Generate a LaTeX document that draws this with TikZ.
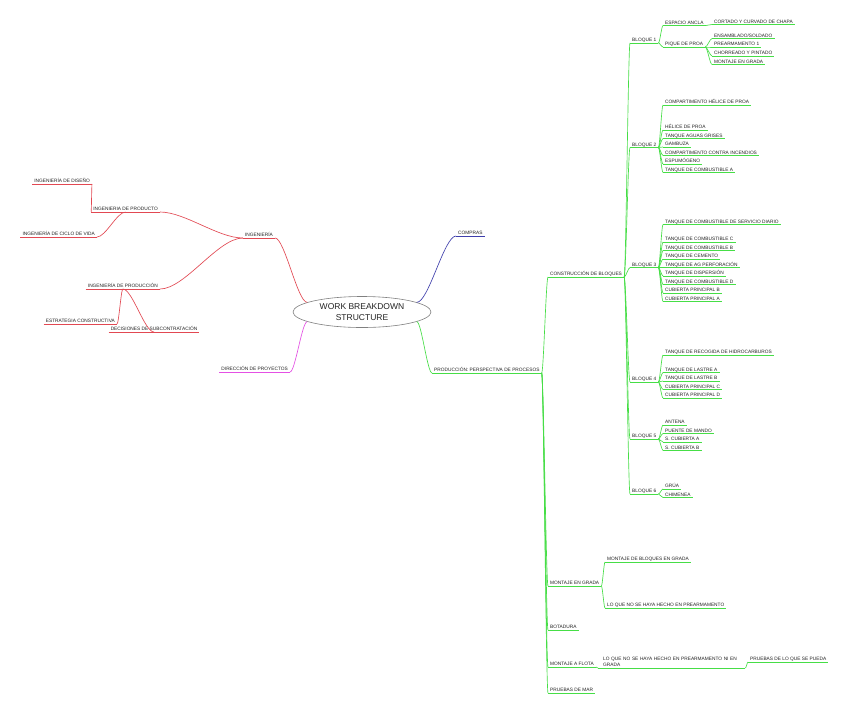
\documentclass[tikz,border=0pt]{standalone}
\usepackage{fontspec}
\usetikzlibrary{shapes.geometric,calc}
\newfontfamily\mmfont{Liberation Sans}
\newcommand\mmfs{\mmfont\fontsize{4.8}{6}\selectfont}
\definecolor{cred}{RGB}{226,72,82}
\definecolor{cblue}{RGB}{62,62,172}
\definecolor{cmag}{RGB}{228,80,228}
\definecolor{cgreen}{RGB}{70,222,70}
\definecolor{txt}{RGB}{35,35,35}
\tikzset{
  lbl/.style={font=\mmfs, text=txt, inner xsep=2pt, inner ysep=1.2pt,
    text height=3.5pt, text depth=0pt, anchor=south west,
    append after command={(\tikzlastnode.south west) edge[draw=#1, line width=0.65pt] (\tikzlastnode.south east)}},
  lbltwo/.style={font=\mmfs, text=txt, inner xsep=5pt, inner ysep=1.2pt,
    text width=137pt, align=left, anchor=south west,
    append after command={(\tikzlastnode.south west) edge[draw=#1, line width=0.65pt] (\tikzlastnode.south east)}},
  mmcurve/.style={to path={let \p1=(\tikztostart), \p2=(\tikztotarget) in
    .. controls ({\x1+0.3*(\x2-\x1)},\y1) and ({\x2-0.3*(\x2-\x1)},\y2) .. (\tikztotarget) \tikztonodes}},
  con/.style={draw=#1, line width=0.65pt, mmcurve},
}
\begin{document}
\begin{tikzpicture}[x=1pt,y=-1pt]
\fill[white] (0,0) rectangle (848,713);
\useasboundingbox (0,0) rectangle (848,713);

% centre
\node[ellipse, draw=gray, fill=white, line width=0.6pt, minimum width=138pt, minimum height=31pt,
  inner sep=0pt, font=\mmfont\fontsize{8.5}{11}\selectfont, text=txt, align=center] (wbs) at (362,312)
  {WORK BREAKDOWN\\STRUCTURE};

% left side
\node[lbl=cred, anchor=south east] (ing) at (275,238) {INGENIERÍA};
\node[lbl=cred, anchor=south east] (iprod) at (160,212) {INGENIERIA DE PRODUCTO};
\node[lbl=cred, anchor=south east] (idis) at (92,184) {INGENIERÍA DE DISEÑO};
\node[lbl=cred, anchor=south east] (icic) at (97,237) {INGENIERÍA DE CICLO DE VIDA};
\node[lbl=cred, anchor=south east] (iprodn) at (160,289) {INGENIERÍA DE PRODUCCIÓN};
\node[lbl=cred, anchor=south east] (iest) at (117,324) {ESTRATEGIA CONSTRUCTIVA};
\node[lbl=cred, anchor=south] (idec) at (154,332) {DECISIONES DE SUBCONTRATACIÓN};
\node[lbl=cmag, anchor=south east] (dir) at (290,372) {DIRECCIÓN DE PROYECTOS};

% right side
\node[lbl=cblue] (com) at (456,236) {COMPRAS};
\node[lbl=cgreen] (prod) at (432,373) {PRODUCCIÓN: PERSPECTIVA DE PROCESOS};
\node[lbl=cgreen] (cons) at (548,277) {CONSTRUCCIÓN DE BLOQUES};

\node[lbl=cgreen] (b1) at (630,43) {BLOQUE 1};
\node[lbl=cgreen] (b1a) at (663,25.5) {ESPACIO ANCLA};
\node[lbl=cgreen] (b1b) at (663,47) {PIQUE DE PROA};
\node[lbl=cgreen] (b1a1) at (712,24.5) {CORTADO Y CURVADO DE CHAPA};
\node[lbl=cgreen] (b1b1) at (712,38.5) {ENSAMBLADO/SOLDADO};
\node[lbl=cgreen] (b1b2) at (712,47) {PREARMAMENTO 1};
\node[lbl=cgreen] (b1b3) at (712,56) {CHORREADO Y PINTADO};
\node[lbl=cgreen] (b1b4) at (712,64.5) {MONTAJE EN GRADA};

\node[lbl=cgreen] (b2) at (630,147.5) {BLOQUE 2};
\node[lbl=cgreen] (b2a) at (663,105) {COMPARTIMENTO HÉLICE DE PROA};
\node[lbl=cgreen] (b2b) at (663,130) {HÉLICE DE PROA};
\node[lbl=cgreen] (b2c) at (663,138.5) {TANQUE AGUAS GRISES};
\node[lbl=cgreen] (b2d) at (663,147) {GAMBUZA};
\node[lbl=cgreen] (b2e) at (663,155.5) {COMPARTIMENTO CONTRA INCENDIOS};
\node[lbl=cgreen] (b2f) at (663,164) {ESPUMÓGENO};
\node[lbl=cgreen] (b2g) at (663,172.5) {TANQUE DE COMBUSTIBLE A};

\node[lbl=cgreen] (b3) at (630,267.5) {BLOQUE 3};
\node[lbl=cgreen] (b3a) at (663,224.5) {TANQUE DE COMBUSTIBLE DE SERVICIO DIARIO};
\node[lbl=cgreen] (b3b) at (663,242) {TANQUE DE COMBUSTIBLE C};
\node[lbl=cgreen] (b3c) at (663,250.5) {TANQUE DE COMBUSTIBLE B};
\node[lbl=cgreen] (b3d) at (663,259) {TANQUE DE CEMENTO};
\node[lbl=cgreen] (b3e) at (663,267.5) {TANQUE DE AG PERFORACIÓN};
\node[lbl=cgreen] (b3f) at (663,276) {TANQUE DE DISPERSIÓN};
\node[lbl=cgreen] (b3g) at (663,284.5) {TANQUE DE COMBUSTIBLE D};
\node[lbl=cgreen] (b3h) at (663,293) {CUBIERTA PRINCIPAL B};
\node[lbl=cgreen] (b3i) at (663,301.5) {CUBIERTA PRINCIPAL A};

\node[lbl=cgreen] (b4) at (630,382) {BLOQUE 4};
\node[lbl=cgreen] (b4a) at (663,355) {TANQUE DE RECOGIDA DE HIDROCARBUROS};
\node[lbl=cgreen] (b4b) at (663,372.5) {TANQUE DE LASTRE A};
\node[lbl=cgreen] (b4c) at (663,381) {TANQUE DE LASTRE B};
\node[lbl=cgreen] (b4d) at (663,389.5) {CUBIERTA PRINCIPAL C};
\node[lbl=cgreen] (b4e) at (663,398) {CUBIERTA PRINCIPAL D};

\node[lbl=cgreen] (b5) at (630,439) {BLOQUE 5};
\node[lbl=cgreen] (b5a) at (663,425) {ANTENA};
\node[lbl=cgreen] (b5b) at (663,433.5) {PUENTE DE MANDO};
\node[lbl=cgreen] (b5c) at (663,442) {S. CUBIERTA A};
\node[lbl=cgreen] (b5d) at (663,450.5) {S. CUBIERTA B};

\node[lbl=cgreen] (b6) at (630,494) {BLOQUE 6};
\node[lbl=cgreen] (b6a) at (663,489) {GRÚA};
\node[lbl=cgreen] (b6b) at (663,497.5) {CHIMENEA};

\node[lbl=cgreen] (mg) at (548,586) {MONTAJE EN GRADA};
\node[lbl=cgreen] (mg1) at (605,562) {MONTAJE DE BLOQUES EN GRADA};
\node[lbl=cgreen] (mg2) at (605,608) {LO QUE NO SE HAYA HECHO EN PREARMAMENTO};
\node[lbl=cgreen] (bot) at (548,630) {BOTADURA};
\node[lbl=cgreen] (mf) at (548,667) {MONTAJE A FLOTA};
\node[lbltwo=cgreen] (mf1) at (598,668) {LO QUE NO SE HAYA HECHO EN PREARMAMENTO NI EN\\GRADA};
\node[lbl=cgreen] (mf2) at (748,662) {PRUEBAS DE LO QUE SE PUEDA};
\node[lbl=cgreen] (pm) at (548,693) {PRUEBAS DE MAR};

% connectors
\draw[con=cred] (wbs.170) to (ing.south east);
\draw[con=cred] (ing.south west) to (iprod.south east);
\draw[con=cred] (ing.south west) to (iprodn.south east);
\draw[con=cred] (iprod.south west) to (idis.south east);
\draw[con=cred] (iprod.south) to (icic.south east);
\draw[con=cred] (iprodn.south) to (iest.south east);
\draw[con=cred] (iprodn.south) to (idec.south);
\draw[con=cmag] (wbs.190) to (dir.south east);
\draw[con=cblue] (wbs.10) to (com.south west);
\draw[con=cgreen] (wbs.-10) to (prod.south west);

\foreach \c in {cons,mg,bot,mf,pm}
  \draw[con=cgreen] (prod.south east) to (\c.south west);
\foreach \c in {b1,b2,b3,b4,b5,b6}
  \draw[con=cgreen] (cons.south east) to (\c.south west);
\foreach \c in {b1a,b1b}
  \draw[con=cgreen] (b1.south east) to (\c.south west);
\draw[con=cgreen] (b1a.south east) to (b1a1.south west);
\foreach \c in {b1b1,b1b2,b1b3,b1b4}
  \draw[con=cgreen] (b1b.south east) to (\c.south west);
\foreach \c in {b2a,b2b,b2c,b2d,b2e,b2f,b2g}
  \draw[con=cgreen] (b2.south east) to (\c.south west);
\foreach \c in {b3a,b3b,b3c,b3d,b3e,b3f,b3g,b3h,b3i}
  \draw[con=cgreen] (b3.south east) to (\c.south west);
\foreach \c in {b4a,b4b,b4c,b4d,b4e}
  \draw[con=cgreen] (b4.south east) to (\c.south west);
\foreach \c in {b5a,b5b,b5c,b5d}
  \draw[con=cgreen] (b5.south east) to (\c.south west);
\foreach \c in {b6a,b6b}
  \draw[con=cgreen] (b6.south east) to (\c.south west);
\foreach \c in {mg1,mg2}
  \draw[con=cgreen] (mg.south east) to (\c.south west);
\draw[con=cgreen] (mf.south east) to (mf1.south west);
\draw[con=cgreen] (mf1.south east) to (mf2.south west);
\end{tikzpicture}
\end{document}
